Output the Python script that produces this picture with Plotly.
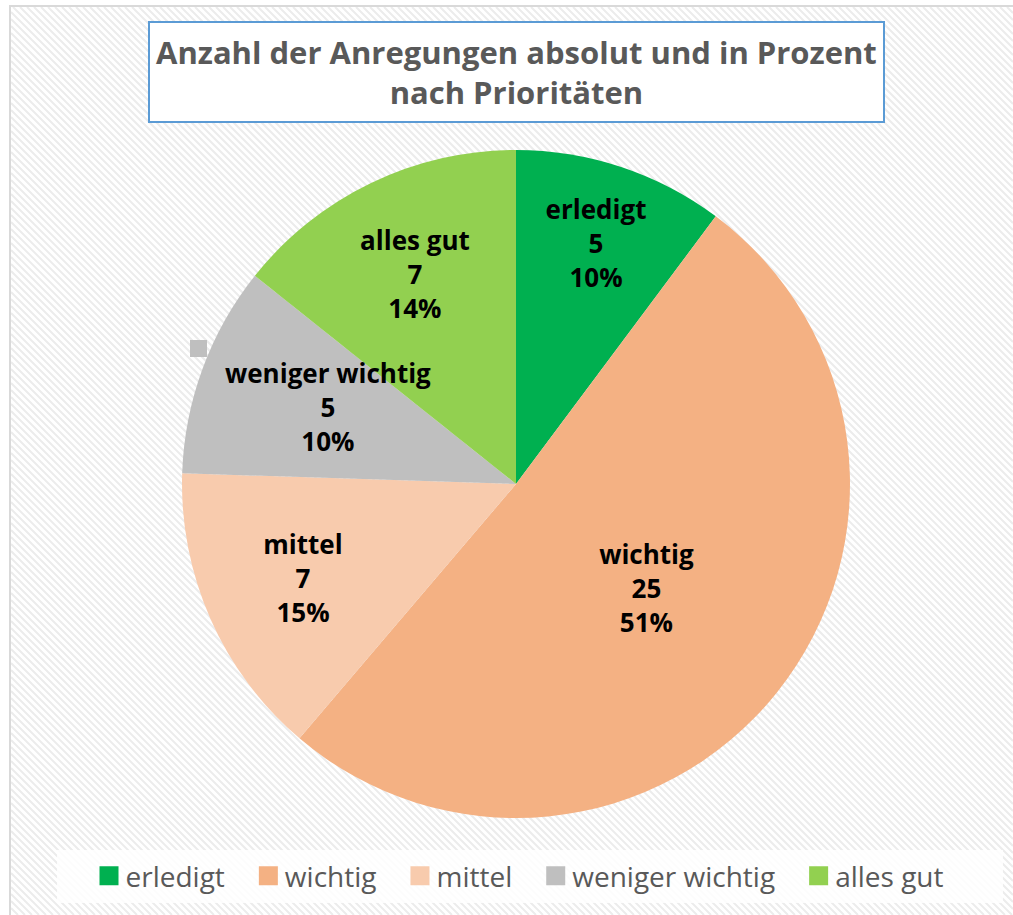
import math
import plotly.graph_objects as go

W, H = 1013, 915

categories = ["erledigt", "wichtig", "mittel", "weniger wichtig", "alles gut"]
counts = [5, 25, 7, 5, 7]
percent_labels = ["10%", "51%", "15%", "10%", "14%"]
colors = ["#00B050", "#F4B183", "#F8CBAD", "#BFBFBF", "#92D050"]
title_text = "Anzahl der Anregungen absolut und in Prozent<br>nach Prioritäten"


def px(x):
    return x / W


def py(y):
    return 1 - y / H


# pie geometry (pixels)
PIE_L, PIE_R, PIE_T, PIE_B = 182, 850, 150, 818
CX, CY = (PIE_L + PIE_R) / 2, (PIE_T + PIE_B) / 2
RAD = (PIE_R - PIE_L) / 2

# faint diagonal hatching of the chart area (decoration)
L, T, R, B = 11, 7, 1013, 915
step = 7
segs = []
c = L - (B - T)
while c < R:
    x0, y0 = c, T
    if x0 < L:
        y0 = T + (L - x0)
        x0 = L
    x1, y1 = c + (B - T), B
    if x1 > R:
        y1 = B - (x1 - R)
        x1 = R
    if y0 < y1:
        segs.append(f"M{px(x0):.5f},{py(y0):.5f}L{px(x1):.5f},{py(y1):.5f}")
    c += step
hatch_path = "".join(segs)

label_template = "<b>%{label}</b><br><b>%{value}</b><br><b>%{text}</b>"
# the narrow grey slice gets its label placed nearer the centre (as in the original)
moved = 3
textpos = ["none" if i == moved else "inside" for i in range(len(categories))]

fig = go.Figure()
fig.add_trace(go.Pie(
    labels=categories,
    values=counts,
    text=percent_labels,
    marker=dict(colors=colors, line=dict(width=0)),
    sort=False,
    direction="clockwise",
    rotation=0,
    texttemplate=label_template,
    textposition=textpos,
    insidetextorientation="horizontal",
    textfont=dict(family="Open Sans", size=26, color="#000000"),
    domain=dict(x=[px(PIE_L), px(PIE_R)], y=[py(PIE_B), py(PIE_T)]),
    hoverinfo="label+value+percent",
))

total = sum(counts)
mid = (sum(counts[:moved]) + counts[moved] / 2) / total * 2 * math.pi
lab_x = CX + 0.6 * RAD * math.sin(mid)
lab_y = CY - 0.6 * RAD * math.cos(mid) - 8

shapes = [
    dict(type="path", xref="paper", yref="paper", path=hatch_path,
         line=dict(color="#ececec", width=2), layer="below"),
    dict(type="rect", xref="paper", yref="paper",
         x0=px(10), x1=px(1030), y0=py(6), y1=py(930),
         line=dict(color="#d9d9d9", width=2), fillcolor="rgba(0,0,0,0)", layer="below"),
    dict(type="rect", xref="paper", yref="paper",
         x0=px(149), x1=px(884), y0=py(22), y1=py(122),
         line=dict(color="#5B9BD5", width=2), fillcolor="#ffffff", layer="below"),
    dict(type="rect", xref="paper", yref="paper",
         x0=px(57), x1=px(1003), y0=py(850), y1=py(903),
         line=dict(width=0), fillcolor="rgba(255,255,255,0.85)", layer="below"),
    dict(type="rect", xref="paper", yref="paper",
         x0=px(190), x1=px(207), y0=py(340), y1=py(357),
         line=dict(width=0), fillcolor="#BFBFBF", layer="above"),
]

annotations = [
    dict(xref="paper", yref="paper", x=px(516), y=py(72),
         xanchor="center", yanchor="middle", showarrow=False,
         text="<b>" + title_text + "</b>",
         font=dict(family="Open Sans", size=31, color="#595959")),
    dict(xref="paper", yref="paper", x=px(lab_x), y=py(lab_y),
         xanchor="center", yanchor="middle", showarrow=False,
         text=f"<b>{categories[moved]}</b><br><b>{counts[moved]}</b><br><b>{percent_labels[moved]}</b>",
         font=dict(family="Open Sans", size=26, color="#000000")),
]

fig.update_layout(
    width=W, height=H,
    margin=dict(l=0, r=0, t=0, b=0),
    paper_bgcolor="#ffffff",
    plot_bgcolor="#ffffff",
    shapes=shapes,
    uniformtext=dict(minsize=26, mode="show"),
    annotations=annotations,
    showlegend=True,
    legend=dict(
        orientation="h",
        x=px(510), xanchor="center",
        y=py(876), yanchor="middle",
        bgcolor="rgba(0,0,0,0)",
        font=dict(family="Open Sans", size=28, color="#595959"),
        itemwidth=45,
        traceorder="normal",
    ),
)

post = (
    "document.body.style.margin='0';document.body.style.overflow='hidden';"
    "document.querySelectorAll('.legendpie').forEach(function(p){"
    "p.setAttribute('d','M20.5,9.5H1.5V-9.5H20.5Z');});"
)
fig.write_html("out.html", post_script=post, config={"displayModeBar": False})
